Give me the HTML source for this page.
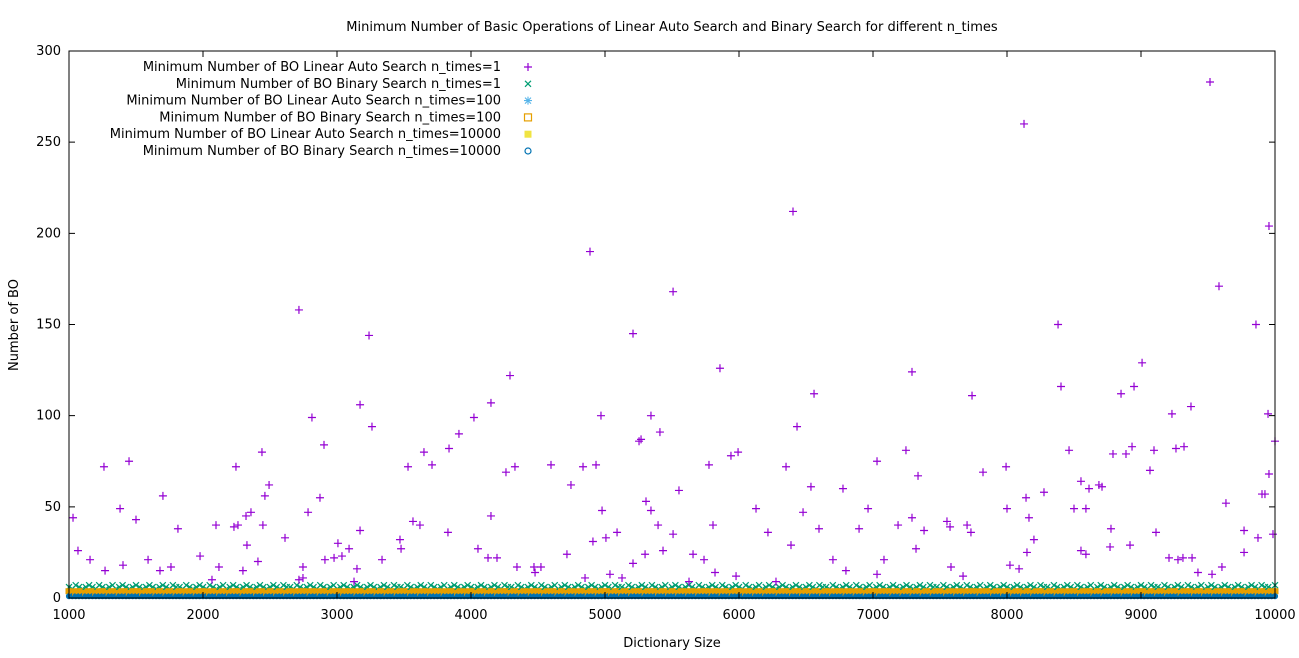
<!DOCTYPE html>
<html><head><meta charset="utf-8"><style>
body{margin:0;background:#fff}
svg text{font-family:"DejaVu Sans","Liberation Sans",sans-serif;font-size:13px;fill:#000}
</style></head><body>
<svg id="chart" width="1299" height="653" xmlns="http://www.w3.org/2000/svg">
<rect width="1299" height="653" fill="#fff"/>
<text x="672" y="31" text-anchor="middle">Minimum Number of Basic Operations of Linear Auto Search and Binary Search for different n_times</text>
<text x="672" y="647" text-anchor="middle">Dictionary Size</text>
<text transform="translate(18,325) rotate(-90)" text-anchor="middle">Number of BO</text>
<g id="bands"></g><g id="pts"></g><g id="axes"></g><g id="legend"></g>
</svg>
<script>
const xTicks=[1000,2000,3000,4000,5000,6000,7000,8000,9000,10000];
const yTicks=[0,50,100,150,200,250,300];
const linSizes=[1030,1067,1157,1261,1269,1381,1403,1448,1500,1590,1679,1701,1761,1813,1978,2067,2097,2119,2246,2231,2261,2298,2321,2328,2358,2410,2440,2447,2462,2493,2612,2716,2716,2746,2746,2784,2813,2873,2903,2910,2978,3007,3037,3090,3127,3149,3172,3172,3239,3261,3336,3470,3478,3530,3567,3619,3649,3709,3828,3836,3910,4022,4052,4127,4149,4149,4194,4261,4291,4328,4343,4470,4478,4522,4597,4746,4716,4836,4851,4888,4910,4933,4970,4978,5007,5037,5090,5127,5209,5209,5254,5269,5299,5306,5343,5343,5410,5396,5433,5508,5508,5552,5627,5657,5739,5776,5806,5821,5858,5940,5993,5978,6127,6216,6276,6351,6388,6403,6433,6478,6537,6560,6597,6701,6776,6798,6896,6963,7030,7030,7082,7187,7246,7291,7291,7321,7336,7381,7552,7575,7582,7672,7702,7739,7731,7821,7993,8000,8022,8090,8127,8142,8164,8201,8149,8276,8381,8403,8463,8500,8552,8552,8589,8612,8589,8686,8709,8769,8776,8791,8851,8888,8918,8933,8948,9008,9067,9097,9112,9209,9231,9261,9276,9313,9321,9373,9381,9425,9515,9530,9582,9604,9634,9769,9769,9858,9873,9925,9948,9955,9955,9985,10000,9903];
const linValues=[44,26,21,72,15,49,18,75,43,21,15,56,17,38,23,10,40,17,72,39,40,15,45,29,47,20,80,40,56,62,33,158,10,11,17,47,99,55,84,21,22,30,23,27,9,16,106,37,144,94,21,32,27,72,42,40,80,73,36,82,90,99,27,22,107,45,22,69,122,72,17,17,14,17,73,62,24,72,11,190,31,73,100,48,33,13,36,11,145,19,86,87,24,53,100,48,91,40,26,168,35,59,9,24,21,73,40,14,126,78,80,12,49,36,9,72,29,212,94,47,61,112,38,21,60,15,38,49,75,13,21,40,81,124,44,27,67,37,42,39,17,12,40,111,36,69,72,49,18,16,260,55,44,32,25,58,150,116,81,49,26,64,49,60,24,62,61,28,38,79,112,79,29,83,116,129,70,81,36,22,101,82,21,22,83,105,22,14,283,13,171,17,52,37,25,150,33,57,101,204,68,35,86,57];
const greenBand="6576567657656756765676567656765766576567657656756765676567656765766576567657656756765676567656765766576567657656756765676567656765766576567657656756765676567656765766576567657656756765676576567";
const orangeBand="4434434434443443443444344434434434434434443443443444344434434434434434443443443444344434434434434434443443443444344434434434434434443443443444344434434434434434443443443444344434434434434434";
const blueBand="1111111111111111111111111111111111111111111111111111111111111111111111111111111111111111111111111111111111111111111111111111111111111111111111111111111111111111111111111111111111111111111111";
const NS="http://www.w3.org/2000/svg";
const X0=69,X1=1275,Y0=598,Y1=51;
const sx=v=>X0+(v-1000)*(X1-X0)/9000;
const sy=v=>Y0-v*(Y0-Y1)/300;
function mk(tag,attrs,parent){const e=document.createElementNS(NS,tag);for(const k in attrs)e.setAttribute(k,attrs[k]);parent.appendChild(e);return e;}
function plus(g,x,y,c){mk('path',{d:`M${x-4},${y}H${x+4}M${x},${y-4}V${y+4}`,stroke:c,'stroke-width':1.2,fill:'none'},g);}
function cross(g,x,y,c){mk('path',{d:`M${x-3},${y-3}L${x+3},${y+3}M${x-3},${y+3}L${x+3},${y-3}`,stroke:c,'stroke-width':1.2,fill:'none'},g);}
const bands=document.getElementById('bands');
for(let i=0;i<361;i++){
  const s=1000+i*25,x=sx(s);
  const gv=+greenBand[i%greenBand.length],ov=+orangeBand[i%orangeBand.length],bv=+blueBand[i%blueBand.length];
  const gb=mk('g',{},bands);
  
  
  cross(gb,x,sy(gv),'#009e73');
  mk('rect',{x:x-3,y:sy(ov)-2,width:6,height:5,fill:'#e69f00',stroke:'#e69f00','stroke-width':1},gb);
  mk('circle',{cx:x,cy:sy(bv),r:2.6,fill:'#0072b2',stroke:'#0072b2'},gb);
}
const pts=document.getElementById('pts');
for(let i=0;i<linSizes.length;i++){
  const g=mk('g',{},pts);
  
  
  plus(g,sx(linSizes[i]),sy(linValues[i]),'#9400d3');
}
const ax=document.getElementById('axes');
const frame=mk('rect',{x:X0,y:Y1,width:X1-X0,height:Y0-Y1,fill:'none',stroke:'#000','stroke-width':1},ax);


xTicks.forEach(t=>{const x=sx(t);
  mk('path',{d:`M${x},${Y0}v-6M${x},${Y1}v6`,stroke:'#000'},ax);
  const tx=mk('text',{x:x,y:Y0+21,'text-anchor':'middle'},ax);tx.textContent=t;
  
  
});
yTicks.forEach(t=>{const y=sy(t);
  mk('path',{d:`M${X0},${y}h6M${X1},${y}h-6`,stroke:'#000'},ax);
  const tx=mk('text',{x:X0-8,y:y+4,'text-anchor':'end'},ax);tx.textContent=t;
  
  
});
const legendLabels=["Minimum Number of BO Linear Auto Search n_times=1","Minimum Number of BO Binary Search n_times=1","Minimum Number of BO Linear Auto Search n_times=100","Minimum Number of BO Binary Search n_times=100","Minimum Number of BO Linear Auto Search n_times=10000","Minimum Number of BO Binary Search n_times=10000"];
const lg=document.getElementById('legend');
legendLabels.forEach((l,i)=>{
  const y=67+i*16.8;
  const g=mk('g',{},lg);
  
  
  const t=mk('text',{x:501,y:y+4,'text-anchor':'end'},g);t.textContent=l;
  const x=528;
  if(i==0)plus(g,x,y,'#9400d3');
  else if(i==1)cross(g,x,y,'#009e73');
  else if(i==2){mk('path',{d:`M${x-4},${y}H${x+4}M${x},${y-4}V${y+4}M${x-3},${y-3}L${x+3},${y+3}M${x-3},${y+3}L${x+3},${y-3}`,stroke:'#56b4e9','stroke-width':1.1},g);}
  else if(i==3)mk('rect',{x:x-3.5,y:y-3.5,width:7,height:7,fill:'none',stroke:'#e69f00','stroke-width':1.2},g);
  else if(i==4)mk('rect',{x:x-3.5,y:y-3.5,width:7,height:7,fill:'#f0e442'},g);
  else mk('circle',{cx:x,cy:y,r:3,fill:'none',stroke:'#0072b2','stroke-width':1.2},g);
});
</script>
</body></html>
